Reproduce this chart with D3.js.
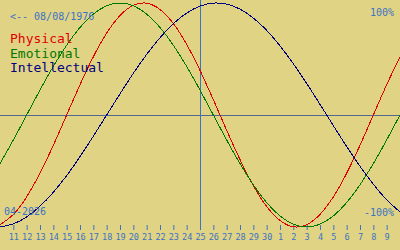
<!DOCTYPE html>
<html>
<head>
<meta charset="utf-8">
<script src="https://cdn.jsdelivr.net/npm/d3@7"></script>
<style>
  body { margin: 0; background: #e1d384; }
  svg { display: block; font-family: "DejaVu Sans Mono", "Liberation Mono", monospace; }
</style>
</head>
<body>
<svg id="chart" width="400" height="250"></svg>
<script>
// day labels under the ticks (Apr 11 .. May 9)
const dayLabels = ['11','12','13','14','15','16','17','18','19','20','21','22','23','24','25',
  '26','27','28','29','30','1','2','3','4','5','6','7','8','9']

// values read per day, from Apr 10 (0) to May 10 (30)
const physical = [-0.979,-0.888,-0.731,-0.520,-0.270,0,0.270,0.520,0.731,0.888,0.979,0.998,0.942,0.817,0.631,0.398,0.136,-0.136,-0.398,-0.631,-0.817,-0.942,-0.998,-0.979,-0.888,-0.731,-0.520,-0.270,0,0.270,0.520]
const emotional = [-0.434,-0.223,0,0.223,0.434,0.623,0.782,0.901,0.975,1,0.975,0.901,0.782,0.623,0.434,0.223,0,-0.223,-0.434,-0.623,-0.782,-0.901,-0.975,-1,-0.975,-0.901,-0.782,-0.623,-0.434,-0.223,0]
const intellectual = [-0.999,-0.972,-0.910,-0.815,-0.690,-0.541,-0.372,-0.189,0,0.189,0.372,0.541,0.690,0.815,0.910,0.972,0.999,0.990,0.945,0.866,0.756,0.618,0.458,0.282,0.095,-0.095,-0.282,-0.458,-0.618,-0.756,-0.866]

const seriesNames = ['Physical','Emotional','Intellectual']
const seriesColors = ['#e00000','#007800','#000080']
const todayIndex = 15
const birthText = '<-- 08/08/1976'
const monthText = '04-2026'

const W = 400, H = 250
const svg = d3.select('#chart')
const accent = '#3a72c4'

const x = d3.scaleLinear().domain([0, 30]).range([0, W])
const y = d3.scaleLinear().domain([-1, 1]).range([227, 3])

// zero line
svg.append('line')
  .attr('x1', 0).attr('x2', W)
  .attr('y1', y(0) + 0.5).attr('y2', y(0) + 0.5)
  .attr('stroke', '#52698f')

// today line
svg.append('line')
  .attr('x1', x(todayIndex) + 0.5).attr('x2', x(todayIndex) + 0.5)
  .attr('y1', 0).attr('y2', 230)
  .attr('stroke', accent)

// axis ticks + labels
const axis = d3.axisBottom(x)
  .tickValues(d3.range(1, 30))
  .tickFormat(d => dayLabels[d - 1])
  .tickSize(5)
  .tickSizeOuter(0)

const gx = svg.append('g')
  .attr('transform', 'translate(0,225)')
  .call(axis)
gx.select('.domain').remove()
gx.selectAll('.tick line').attr('stroke', accent)
gx.selectAll('.tick text')
  .attr('fill', accent)
  .attr('font-size', 8.5)
  .attr('font-family', '"DejaVu Sans Mono", monospace')
  .attr('y', 9)

// curves
const lineGen = d3.line()
  .x((d, i) => x(i))
  .y(d => y(d))
  .curve(d3.curveNatural)

const allSeries = [physical, emotional, intellectual]
svg.selectAll('path.bio')
  .data(allSeries)
  .enter()
  .append('path')
  .attr('class', 'bio')
  .attr('d', d => lineGen(d))
  .attr('fill', 'none')
  .attr('stroke', (d, i) => seriesColors[i])
  .attr('stroke-width', 1)
  .attr('shape-rendering', 'crispEdges')

// texts
svg.append('text')
  .attr('x', 10).attr('y', 20)
  .attr('font-size', 10)
  .attr('fill', accent)
  .text(birthText)

svg.selectAll('text.legend')
  .data(seriesNames)
  .enter()
  .append('text')
  .attr('class', 'legend')
  .attr('x', 10)
  .attr('y', (d, i) => 43 + i * 14.7)
  .attr('font-size', 13)
  .attr('fill', (d, i) => seriesColors[i])
  .text(d => d)

svg.append('text')
  .attr('x', 394).attr('y', 16)
  .attr('text-anchor', 'end')
  .attr('font-size', 10)
  .attr('fill', accent)
  .text('100%')

svg.append('text')
  .attr('x', 394).attr('y', 216)
  .attr('text-anchor', 'end')
  .attr('font-size', 10)
  .attr('fill', accent)
  .text('-100%')

svg.append('text')
  .attr('x', 4).attr('y', 215)
  .attr('font-size', 10)
  .attr('fill', accent)
  .text(monthText)
</script>
</body>
</html>
